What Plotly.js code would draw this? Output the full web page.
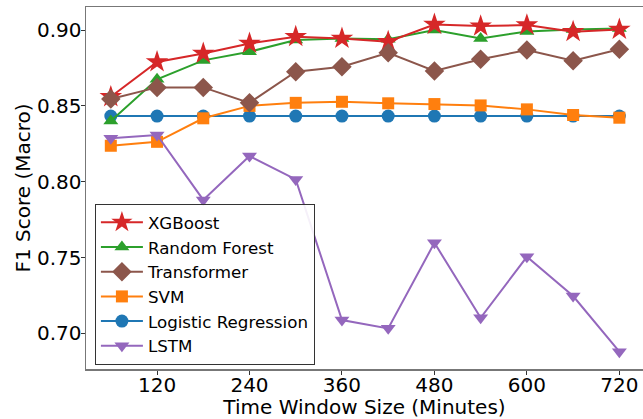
<!DOCTYPE html>
<html>
<head>
<meta charset="utf-8">
<script src="https://cdn.plot.ly/plotly-3.0.1.min.js"></script>
<style>html,body{margin:0;padding:0;overflow:hidden;background:#fff;}#chart{width:643px;height:419px;}</style>
</head>
<body>
<div id="chart"></div>
<script>
const windows = [60, 120, 180, 240, 300, 360, 420, 480, 540, 600, 660, 720];
const xTicks = [120, 240, 360, 480, 600, 720];
const yTicks = [0.70, 0.75, 0.80, 0.85, 0.90];

const xgboost      = [0.856, 0.879, 0.8846, 0.8912, 0.8956, 0.8945, 0.8923, 0.9037, 0.9026, 0.9033, 0.8989, 0.9004];
const randomForest = [0.840, 0.8675, 0.880, 0.8857, 0.8934, 0.8945, 0.894, 0.900, 0.8945, 0.899, 0.9004, 0.901];
const transformer  = [0.8545, 0.8622, 0.8622, 0.852, 0.8725, 0.8758, 0.885, 0.873, 0.8807, 0.8868, 0.8798, 0.8873];
const svm          = [0.8237, 0.8263, 0.8418, 0.850, 0.852, 0.8527, 0.8517, 0.8512, 0.8503, 0.8477, 0.844, 0.8422];
const logReg       = [0.8433, 0.8433, 0.8433, 0.8433, 0.8433, 0.8433, 0.8433, 0.8433, 0.8433, 0.8433, 0.8433, 0.8433];
const lstm         = [0.8286, 0.8308, 0.788, 0.8169, 0.8015, 0.7088, 0.7033, 0.7597, 0.7103, 0.7505, 0.7246, 0.6879];

function tr(name, y, color, symbol, size, rank) {
  return {
    x: windows, y: y, name: name, type: 'scatter', mode: 'lines+markers',
    line: {color: color, width: 2},
    marker: {color: color, symbol: symbol, size: size},
    legendrank: rank
  };
}

const data = [
  tr('Logistic Regression', logReg, '#1f77b4', 'circle', 13, 5),
  tr('SVM', svm, '#ff7f0e', 'square', 12, 4),
  tr('LSTM', lstm, '#9467bd', 'triangle-down', 13, 6),
  tr('Random Forest', randomForest, '#2ca02c', 'triangle-up', 13, 2),
  tr('XGBoost', xgboost, '#d62728', 'star', 17, 1),
  tr('Transformer', transformer, '#8c564b', 'diamond', 15, 3)
];

const layout = {
  width: 643, height: 419,
  margin: {l: 86, r: 0, t: 7, b: 50},
  paper_bgcolor: '#fff', plot_bgcolor: '#fff',
  font: {family: 'DejaVu Sans', size: 20, color: '#000'},
  showlegend: true,
  legend: {
    x: 0.016, y: 0.456, xanchor: 'left', yanchor: 'top',
    bgcolor: 'rgba(255,255,255,0.9)', bordercolor: '#333', borderwidth: 1,
    font: {family: 'DejaVu Sans', size: 16.7, color: '#000'},
    traceorder: 'normal', itemwidth: 42
  },
  xaxis: {
    range: [27.8, 750.7],
    tickvals: xTicks, ticktext: xTicks.map(String),
    ticks: 'outside', ticklen: 4, tickwidth: 1, tickcolor: '#333',
    ticklabelstandoff: -7,
    showline: true, linecolor: '#777', linewidth: 1.5, mirror: true,
    showgrid: false, zeroline: false,
    tickfont: {family: 'DejaVu Sans', size: 20, color: '#000'},
    title: {text: 'Time Window Size (Minutes)', font: {family: 'DejaVu Sans', size: 20, color: '#000'}, standoff: 2}
  },
  yaxis: {
    range: [0.6765, 0.9152],
    tickvals: yTicks, ticktext: yTicks.map(v => v.toFixed(2)),
    ticks: 'outside', ticklen: 4, tickwidth: 1, tickcolor: '#333',
    ticklabelstandoff: -5,
    showline: true, linecolor: '#777', linewidth: 1.5, mirror: false,
    showgrid: false, zeroline: false,
    tickfont: {family: 'DejaVu Sans', size: 20, color: '#000'},
    title: {text: 'F1 Score (Macro)', font: {family: 'DejaVu Sans', size: 20, color: '#000'}, standoff: 1}
  }
};

Plotly.newPlot('chart', data, layout, {displayModeBar: false, staticPlot: true});
</script>
</body>
</html>
